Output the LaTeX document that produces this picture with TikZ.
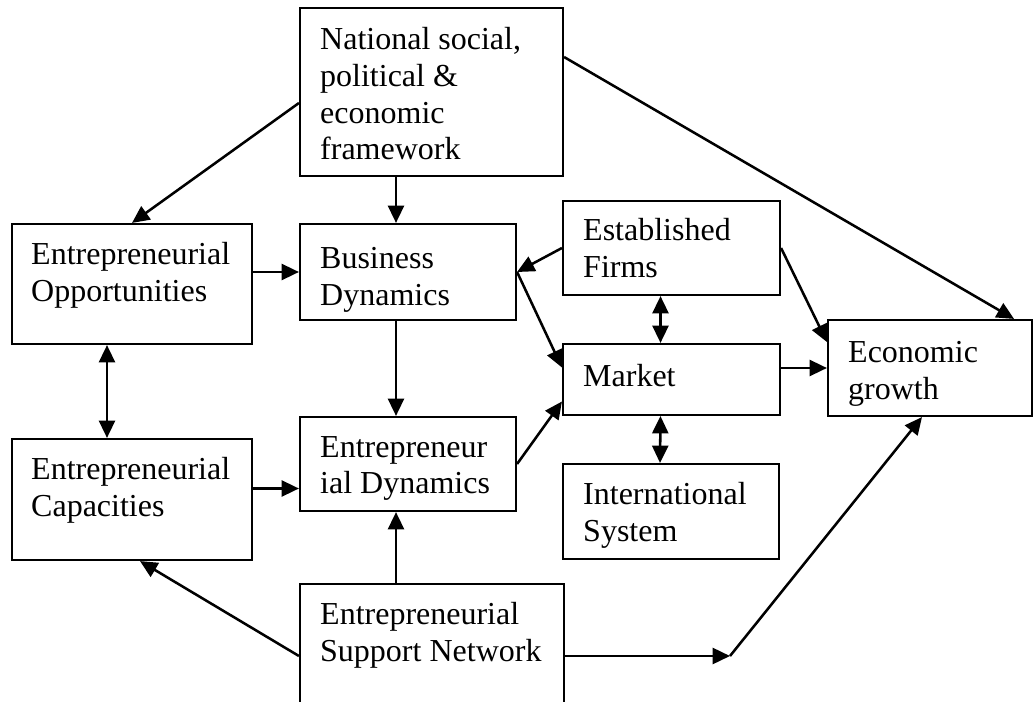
\documentclass[tikz,border=0pt]{standalone}
\usepackage{fontspec}
\setmainfont{Liberation Serif}
\usetikzlibrary{arrows.meta,fit}

\tikzset{
  box/.style={draw, line width=1.6pt, inner sep=0pt},
  txt/.style={anchor=north west, inner sep=0pt, align=left, font=\fontsize{24pt}{27.6pt}\selectfont},
  arr/.style={line width=1.9pt, -{Triangle[length=13pt,width=12pt]}},
  dbl/.style={line width=1.9pt, {Triangle[length=13pt,width=12pt]}-{Triangle[length=13pt,width=12pt]}}
}

\begin{document}
\begin{tikzpicture}[x=0.75pt,y=-0.75pt]
  \clip (0,0) rectangle (1034,702);
  % boxes
  \node[box, fit={(300,8) (563,176)}] (nat) {};
  \node[box, fit={(12,224) (252,344)}] (opp) {};
  \node[box, fit={(300,224) (516,320)}] (bd) {};
  \node[box, fit={(563,201) (780,295)}] (firms) {};
  \node[box, fit={(563,344) (780,415)}] (market) {};
  \node[box, fit={(828,320) (1032,416)}] (growth) {};
  \node[box, fit={(12,439) (252,560)}] (cap) {};
  \node[box, fit={(300,417) (516,511)}] (ed) {};
  \node[box, fit={(563,464) (779,559)}] (intl) {};
  \node[box, fit={(300,584) (564,728)}] (sup) {};
  % texts
  \node[txt] (nat-t) at ([shift={(21,20)}]nat.north west) {National social,\\political \&\\economic\\framework};
  \node[txt] (opp-t) at ([shift={(20,19)}]opp.north west) {Entrepreneurial\\Opportunities};
  \node[txt] (bd-t) at ([shift={(21,24)}]bd.north west) {Business\\Dynamics};
  \node[txt] (firms-t) at ([shift={(21,18)}]firms.north west) {Established\\Firms};
  \node[txt] (market-t) at ([shift={(21,21)}]market.north west) {Market};
  \node[txt] (growth-t) at ([shift={(21,22)}]growth.north west) {Economic\\growth};
  \node[txt] (cap-t) at ([shift={(20,19)}]cap.north west) {Entrepreneurial\\Capacities};
  \node[txt] (ed-t) at ([shift={(21,20)}]ed.north west) {Entrepreneur\\ial Dynamics};
  \node[txt] (intl-t) at ([shift={(21,19)}]intl.north west) {International\\System};
  \node[txt] (sup-t) at ([shift={(21,19)}]sup.north west) {Entrepreneurial\\Support Network};
  % arrows
  \draw[arr] ([shift={(0,11)}]nat.west) -- (opp.north);
  \draw[arr] ([shift={(-12,0)}]bd.north |- nat.south) -- ([shift={(-12,0)}]bd.north);
  \draw[arr] ([shift={(-12,0)}]bd.south) -- ([shift={(-12,0)}]ed.north);
  \draw[arr] ([shift={(-12,0)}]ed.south |- sup.north) -- ([shift={(-12,0)}]ed.south);
  \draw[arr] (opp.east |- bd.west) -- (bd.west);
  \draw[arr] ([shift={(0,-11)}]cap.east) -- ([shift={(0,-11)}]ed.west |- cap.east);
  \draw[dbl] ([shift={(-25,0)}]opp.south) -- ([shift={(-25,0)}]cap.north);
  \draw[arr] (firms.west) -- (bd.east);
  \draw[arr] (bd.east) -- ([shift={(0,-12)}]market.west);
  \draw[arr] (ed.east) -- ([shift={(0,22)}]market.west);
  \draw[dbl] ([shift={(-11,0)}]firms.south) -- ([shift={(-11,0)}]market.north);
  \draw[dbl] ([shift={(-11,0)}]market.south) -- ([shift={(-11,0)}]intl.north);
  \draw[arr] (market.east |- growth.west) -- (growth.west);
  \draw[arr] (firms.east) -- ([shift={(0,-26)}]growth.west);
  \draw[arr] ([shift={(0,-35)}]nat.east) -- ([shift={(-19,0)}]growth.north east);
  \draw[arr] (sup.west) -- ([shift={(8,0)}]cap.south);
  \coordinate (bend) at (730,656);
  \draw[arr] (sup.east) -- (bend);
  \draw[arr] (bend) -- ([shift={(-8,0)}]growth.south);
\end{tikzpicture}
\end{document}
